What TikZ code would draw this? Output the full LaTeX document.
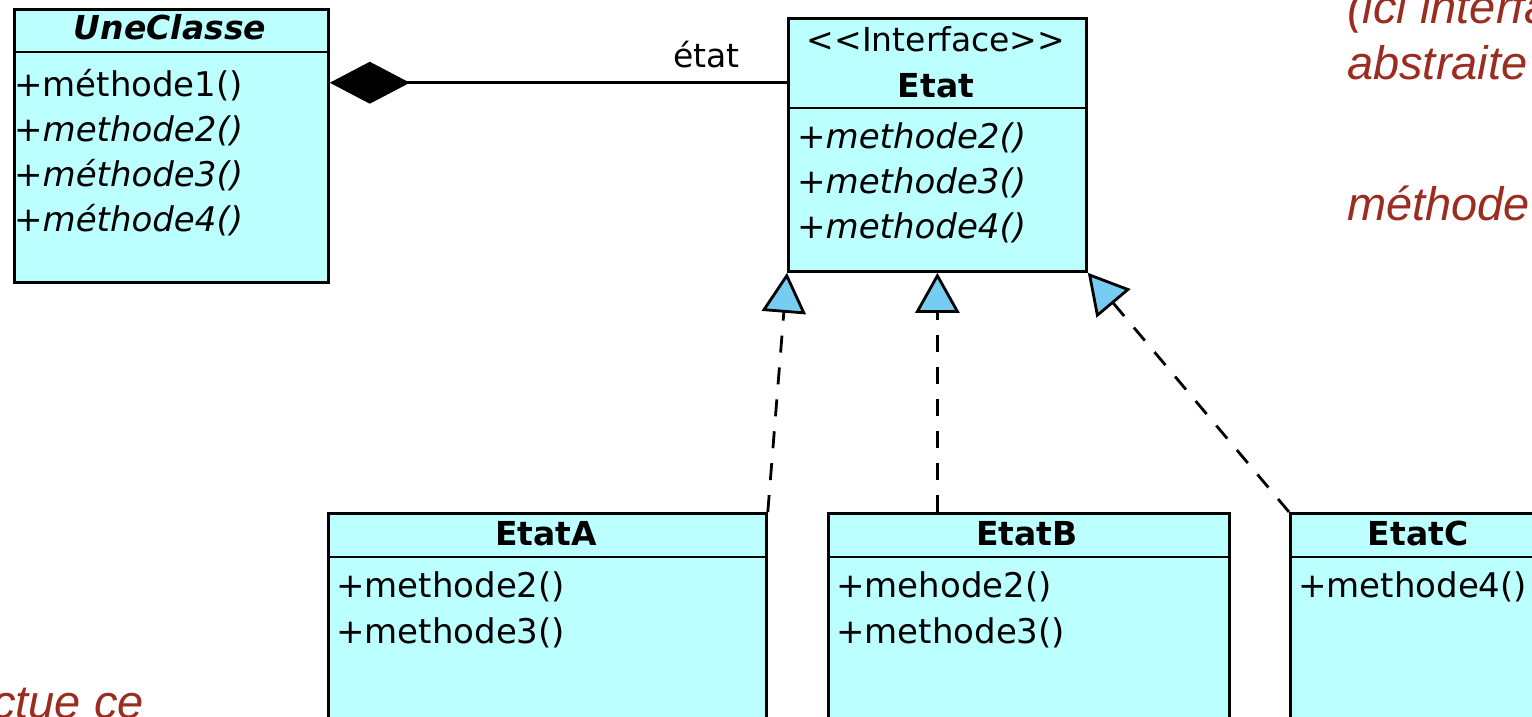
\documentclass[tikz,border=0pt]{standalone}
\usepackage{fontspec}
\usetikzlibrary{arrows.meta,calc}
\newfontfamily\umlfont{DejaVu Sans}
\newfontfamily\notefont{Liberation Sans}
\definecolor{classfill}{RGB}{187,255,255}
\definecolor{tipfill}{RGB}{119,204,242}
\definecolor{notered}{RGB}{155,45,32}

\begin{document}
\begin{tikzpicture}[x=1pt,y=-1pt,
  classbox/.style={draw=black, fill=classfill, line width=2.8pt, inner sep=0pt, anchor=north west},
  sepline/.style={line width=2.8pt},
  member/.style={anchor=base west, inner sep=0pt, font=\umlfont\fontsize{34}{40}\selectfont},
  absmember/.style={anchor=base west, inner sep=0pt, font=\umlfont\itshape\fontsize{34}{40}\selectfont},
  classname/.style={anchor=base, inner sep=0pt, font=\umlfont\bfseries\fontsize{33}{40}\selectfont},
  absname/.style={anchor=base, inner sep=0pt, font=\umlfont\bfseries\itshape\fontsize{33}{40}\selectfont},
  stereo/.style={anchor=base, inner sep=0pt, font=\umlfont\fontsize{33}{40}\selectfont},
  note/.style={inner sep=0pt, text=notered, font=\notefont\itshape\fontsize{47}{56}\selectfont},
  realize/.style={line width=2.8pt, dash pattern=on 17pt off 15pt,
    -{Triangle[length=40pt,width=44pt,fill=tipfill,line join=miter]}},
  compose/.style={line width=2.8pt, {Diamond[length=80pt,width=42pt,fill=black]}-}
]
\useasboundingbox (0,0) rectangle (1532,717);
\clip (0,0) rectangle (1532,717);

% abstract context class
\node[classbox, minimum width=314pt, minimum height=273pt] (une) at (13,8) {};
\draw[sepline] (une.west |- 0,52) -- (une.east |- 0,52);
\node[absname] (une-name) at (170,40) {UneClasse};
\node[member] (une-m1) at (14,96) {+méthode1()};
\node[absmember] (une-m2) at (14,141) {+methode2()};
\node[absmember] (une-m3) at (14,186) {+méthode3()};
\node[absmember] (une-m4) at (14,231) {+méthode4()};

% state interface
\node[classbox, minimum width=298pt, minimum height=253pt] (etat) at (787,17) {};
\draw[sepline] (etat.west |- 0,108) -- (etat.east |- 0,108);
\node[stereo] (etat-st) at (936,52) {<<Interface>>};
\node[classname] (etat-name) at (936,97) {Etat};
\node[absmember] (etat-m2) at (797,148) {+methode2()};
\node[absmember] (etat-m3) at (797,193) {+methode3()};
\node[absmember] (etat-m4) at (797,238) {+methode4()};

% concrete states
\node[classbox, minimum width=438pt, minimum height=260pt] (ea) at (327,512) {};
\draw[sepline] (ea.west |- 0,557) -- (ea.east |- 0,557);
\node[classname] (ea-name) at (546,545) {EtatA};
\node[member] (ea-m2) at (336,597) {+methode2()};
\node[member] (ea-m3) at (336,643) {+methode3()};

\node[classbox, minimum width=401pt, minimum height=260pt] (eb) at (827,512) {};
\draw[sepline] (eb.west |- 0,557) -- (eb.east |- 0,557);
\node[classname] (eb-name) at (1027,545) {EtatB};
\node[member] (eb-m2) at (836,597) {+mehode2()};
\node[member] (eb-m3) at (836,643) {+methode3()};

\node[classbox, minimum width=258pt, minimum height=260pt] (ec) at (1289,512) {};
\draw[sepline] (ec.west |- 0,557) -- (ec.east |- 0,557);
\node[classname] (ec-name) at (1418,545) {EtatC};
\node[member] (ec-m4) at (1298,597) {+methode4()};

% composition
\coordinate (assoc) at ($(etat.north west)!0.257!(etat.south west)$);
\draw[compose] (une.east |- assoc) -- (assoc);
\node[anchor=base east, inner sep=0pt, font=\umlfont\fontsize{33}{40}\selectfont] (lbl) at ($(assoc)+(-47,-15)$) {état};

% realizations
\draw[realize] (ea.north east) -- (etat.south west);
\draw[realize] (etat.south |- eb.north) -- (etat.south);
\draw[realize] (ec.north west) -- (etat.south east);

% notes
\node[note, anchor=base west] (n1) at (1347,24) {(ici interfa};
\node[note, anchor=base west] (n2) at (1347,80) {abstraite};
\node[note, anchor=base west] (n3) at (1347,220) {méthode};
\node[note, anchor=base east] (n4) at (144,718) {ctue ce};
\end{tikzpicture}
\end{document}
